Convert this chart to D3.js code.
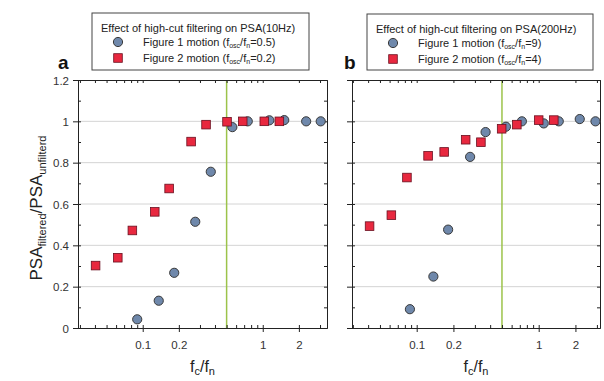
<!DOCTYPE html>
<html><head><meta charset="utf-8">
<script src="https://cdnjs.cloudflare.com/ajax/libs/d3/7.8.5/d3.min.js"></script>
<style>body{margin:0;background:#fff}svg{display:block;font-family:"Liberation Sans",Arial,sans-serif}</style>
</head><body><svg id="c" width="604" height="381"></svg>
<script>
// ---- data ----
const yTicks = [0, 0.2, 0.4, 0.6, 0.8, 1, 1.2];
const xTickLabels = [0.1, 0.2, 1, 2];
const panelLetters = ["a", "b"];
const legendTitles = ["Effect of high-cut filtering on PSA(10Hz)", "Effect of high-cut filtering on PSA(200Hz)"];
const fig1Ratio = ["0.5", "9"];
const fig2Ratio = ["0.2", "4"];
const cutoffLine = [0.5, 0.5];

const aCircX = [0.090, 0.136, 0.183, 0.274, 0.369, 0.558, 0.75, 1.135, 1.51, 2.30, 3.04];
const aCircY = [0.042, 0.132, 0.267, 0.514, 0.756, 0.972, 1.0, 1.005, 1.006, 1.0, 1.0];
const aSqX = [0.0405, 0.062, 0.082, 0.126, 0.166, 0.253, 0.337, 0.504, 0.681, 1.03, 1.375];
const aSqY = [0.302, 0.34, 0.472, 0.562, 0.675, 0.902, 0.984, 0.998, 1.0, 1.0, 1.0];

const bCircX = [0.088, 0.137, 0.181, 0.274, 0.367, 0.539, 0.728, 1.10, 1.46, 2.17, 2.92];
const bCircY = [0.091, 0.249, 0.476, 0.828, 0.948, 0.974, 1.0, 0.99, 1.0, 1.011, 1.0];
const bSqX = [0.0411, 0.062, 0.0832, 0.124, 0.168, 0.252, 0.336, 0.497, 0.662, 1.0, 1.33];
const bSqY = [0.493, 0.546, 0.728, 0.833, 0.852, 0.911, 0.899, 0.964, 0.984, 1.006, 1.006];

const circData = [aCircX.map((x,i)=>({x, y:aCircY[i]})), bCircX.map((x,i)=>({x, y:bCircY[i]}))];
const sqData = [aSqX.map((x,i)=>({x, y:aSqY[i]})), bSqX.map((x,i)=>({x, y:bSqY[i]}))];

// ---- layout ----
const panels = [
  {x0: 78, x1: 327, dom: [0.0289, 3.43], leg: [92, 13, 309, 70], letterX: 58},
  {x0: 352, x1: 600, dom: [0.0295, 3.18], leg: [367, 14, 593, 70], letterX: 344}
];
const yTop = 80, yBot = 328;
const circFill = "#6f88ab", sqFill = "#e8283f";
const svg = d3.select("#c");

const allXTicks = [];
for (const dec of [0.01, 0.1, 1]) for (let k = 1; k <= 9; k++) allXTicks.push(+(k*dec).toPrecision(3));

panels.forEach((p, pi) => {
  const x = d3.scaleLog().domain(p.dom).range([p.x0, p.x1]);
  const y = d3.scaleLinear().domain([0, 1.2]).range([yBot, yTop]);
  const g = svg.append("g");
  const xt = allXTicks.filter(v => v >= p.dom[0] && v <= p.dom[1]);
  const yMinor = d3.range(0, 1.21, 0.1).map(v => +v.toFixed(2));

  // grid
  g.selectAll(".gh").data([0.2, 0.4, 0.6, 0.8, 1.0]).enter().append("line")
    .attr("x1", p.x0).attr("x2", p.x1).attr("y1", d => y(d)).attr("y2", d => y(d))
    .attr("stroke", "#d4d4d4").attr("stroke-width", 1);

  // cutoff line
  g.append("line").attr("x1", x(cutoffLine[pi])).attr("x2", x(cutoffLine[pi]))
    .attr("y1", yTop).attr("y2", yBot).attr("stroke", "#9cc34a").attr("stroke-width", 1.5);

  // axes
  const isMajorY = d => Math.abs(d*5 - Math.round(d*5)) < 1e-6;
  const isMajorX = d => xTickLabels.includes(d);
  const bottom = g.append("g").attr("transform", `translate(0,${yBot})`)
    .call(d3.axisBottom(x).tickValues(xt).tickSize(0).tickFormat(""));
  bottom.selectAll(".tick line").remove();
  bottom.selectAll(".tick").append("line").attr("y1", d => isMajorX(d) ? 4 : 0).attr("y2", d => isMajorX(d) ? -3 : -3).attr("stroke", "#222");
  bottom.selectAll(".tick").filter(d => isMajorX(d)).append("text")
    .attr("y", 21).attr("fill", "#333").attr("font-size", 11.5).attr("text-anchor", "middle").text(d => d);
  const top = g.append("g").attr("transform", `translate(0,${yTop})`)
    .call(d3.axisTop(x).tickValues(xt).tickSize(-3).tickFormat(""));
  const left = g.append("g").attr("transform", `translate(${p.x0},0)`)
    .call(d3.axisLeft(y).tickValues(yMinor).tickSize(0).tickFormat(""));
  left.selectAll(".tick").append("line").attr("x1", d => isMajorY(d) ? -5 : 0).attr("x2", 3).attr("stroke", "#222");
  if (pi === 0) {
    left.selectAll(".tick").filter(d => isMajorY(d)).append("text")
      .attr("x", -9).attr("dy", "0.35em").attr("fill", "#333").attr("font-size", 11.5).attr("text-anchor", "end").text(d => d3.format("~g")(d));
  }
  const right = g.append("g").attr("transform", `translate(${p.x1},0)`)
    .call(d3.axisRight(y).tickValues(yMinor).tickSize(-3).tickFormat(""));
  [bottom, top, left, right].forEach(a => { a.select(".domain").attr("stroke", "#222"); a.selectAll("line").attr("stroke", "#222"); });

  // points
  g.selectAll(".c").data(circData[pi]).enter().append("circle")
    .attr("cx", d => x(d.x)).attr("cy", d => y(d.y)).attr("r", 4.6)
    .attr("fill", circFill).attr("stroke", "#3a3a3a").attr("stroke-width", 1);
  g.selectAll(".s").data(sqData[pi]).enter().append("rect")
    .attr("x", d => x(d.x) - 4.3).attr("y", d => y(d.y) - 4.3).attr("width", 8.6).attr("height", 8.6)
    .attr("fill", sqFill).attr("stroke", "#6a1020").attr("stroke-width", 0.8);

  // letter
  svg.append("text").attr("x", p.letterX).attr("y", 69).attr("font-size", 19).attr("font-weight", "bold").attr("fill", "#111").text(panelLetters[pi]);

  // legend
  const [lx0, ly0, lx1, ly1] = p.leg;
  svg.append("rect").attr("x", lx0).attr("y", ly0).attr("width", lx1 - lx0).attr("height", ly1 - ly0)
    .attr("fill", "#fff").attr("stroke", "#444").attr("stroke-width", 1);
  svg.append("text").attr("x", lx0 + 9).attr("y", ly0 + 19).attr("font-size", 11).attr("fill", "#222").text(legendTitles[pi]);
  const mx = lx0 + 26, tx = lx0 + 51;
  svg.append("circle").attr("cx", mx).attr("cy", ly0 + 29).attr("r", 4.6).attr("fill", circFill).attr("stroke", "#3a3a3a");
  svg.append("rect").attr("x", mx - 4.3).attr("y", ly0 + 45 - 4.3).attr("width", 8.6).attr("height", 8.6).attr("fill", sqFill).attr("stroke", "#6a1020").attr("stroke-width", 0.8);
  const row = (yy, label, ratio) => {
    const t = svg.append("text").attr("x", tx).attr("y", yy).attr("font-size", 11).attr("fill", "#222");
    t.append("tspan").text(label + " (f");
    t.append("tspan").attr("font-size", 7).attr("dy", 2).text("osc");
    t.append("tspan").attr("dy", -2).text("/f");
    t.append("tspan").attr("font-size", 7).attr("dy", 2).text("n");
    t.append("tspan").attr("dy", -2).text("=" + ratio + ")");
  };
  row(ly0 + 33, "Figure 1 motion", fig1Ratio[pi]);
  row(ly0 + 49, "Figure 2 motion", fig2Ratio[pi]);

  // x label
  const xl = svg.append("text").attr("x", (p.x0 + p.x1) / 2).attr("y", 372).attr("text-anchor", "middle").attr("font-size", 16).attr("fill", "#222");
  xl.append("tspan").text("f");
  xl.append("tspan").attr("font-size", 11).attr("dy", 3).text("c");
  xl.append("tspan").attr("dy", -3).text("/f");
  xl.append("tspan").attr("font-size", 11).attr("dy", 3).text("n");
});

// y label
const yl = svg.append("text").attr("transform", "translate(42,208) rotate(-90)").attr("text-anchor", "middle").attr("font-size", 17).attr("fill", "#222");
yl.append("tspan").text("PSA");
yl.append("tspan").attr("font-size", 11).attr("dy", 4).text("filtered");
yl.append("tspan").attr("dy", -4).text("/PSA");
yl.append("tspan").attr("font-size", 11).attr("dy", 4).text("unfilterd");
</script></body></html>
